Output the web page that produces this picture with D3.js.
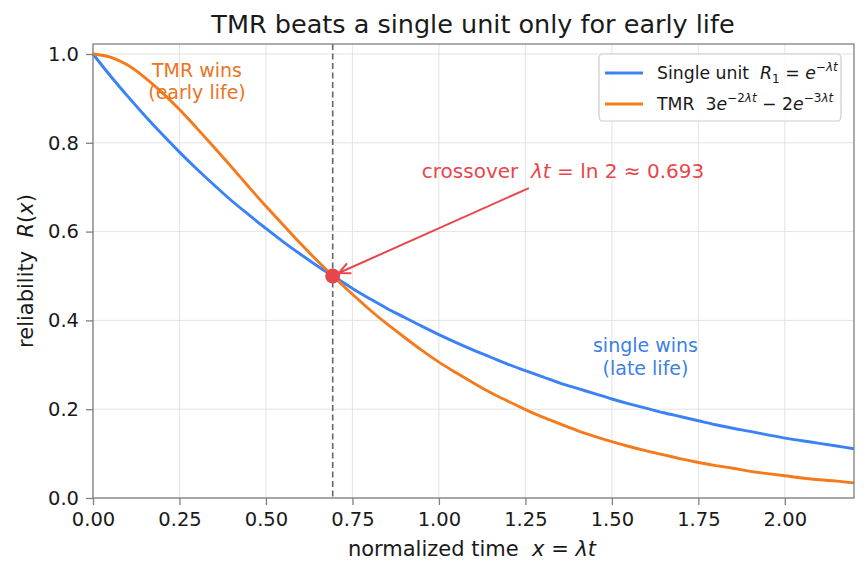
<!DOCTYPE html>
<html>
<head>
<meta charset="utf-8">
<script src="https://cdn.jsdelivr.net/npm/d3@7"></script>
<style>
  body { margin: 0; background: #fff; }
  svg { font-family: "DejaVu Sans", sans-serif; }
  svg text { white-space: pre; }
</style>
</head>
<body>
<svg id="chart" width="866" height="573"></svg>
<script>
(() => {

    // data
    const times = [0, 0.05, 0.1, 0.15, 0.2, 0.25, 0.3, 0.35, 0.4, 0.45, 0.5, 0.55, 0.6, 0.65, 0.7, 0.75,
        0.8, 0.85, 0.9, 0.95, 1.0, 1.05, 1.1, 1.15, 1.2, 1.25, 1.3, 1.35, 1.4, 1.45, 1.5, 1.55,
        1.6, 1.65, 1.7, 1.75, 1.8, 1.85, 1.9, 1.95, 2.0, 2.05, 2.1, 2.15, 2.2];
    const single_unit = [1, 0.951, 0.905, 0.861, 0.819, 0.779, 0.741, 0.705, 0.670, 0.638, 0.607, 0.577,
        0.549, 0.522, 0.497, 0.472, 0.449, 0.427, 0.407, 0.387, 0.368, 0.350, 0.333, 0.317, 0.301,
        0.287, 0.273, 0.259, 0.247, 0.235, 0.223, 0.212, 0.202, 0.192, 0.183, 0.174, 0.165, 0.157,
        0.150, 0.142, 0.135, 0.129, 0.123, 0.117, 0.111];
    const tmr = [1, 0.993, 0.975, 0.947, 0.913, 0.875, 0.833, 0.790, 0.746, 0.701, 0.657, 0.615,
        0.573, 0.533, 0.495, 0.459, 0.424, 0.392, 0.362, 0.333, 0.306, 0.282, 0.259, 0.237, 0.218,
        0.199, 0.182, 0.167, 0.152, 0.139, 0.127, 0.116, 0.106, 0.097, 0.088, 0.080, 0.073, 0.067,
        0.060, 0.055, 0.050, 0.045, 0.041, 0.038, 0.034];
    const crossover = [0.693, 0.5];
    const x_ticks = [0, 0.25, 0.5, 0.75, 1.0, 1.25, 1.5, 1.75, 2.0];
    const y_ticks = [0, 0.2, 0.4, 0.6, 0.8, 1.0];

    // chart parameters
    const left = 93, right = 854, top = 44, bottom = 498;
    const blue = '#3b82f6', orange = '#f57a1c', red = '#e8464b';
    const ink = '#1a1a1a';

    let svg = d3.select('#chart');

    let x_scale = d3.scaleLinear().domain([0, 2.2]).range([left, right]);
    let y_scale = d3.scaleLinear().domain([0, 1.0225]).range([bottom, top]);

    // grid
    svg.append('g')
        .selectAll('line')
        .data(x_ticks)
        .enter()
        .append('line')
        .attr('x1', (d) => x_scale(d)).attr('x2', (d) => x_scale(d))
        .attr('y1', top).attr('y2', bottom)
        .style('stroke', '#dcdcdc').style('stroke-width', 0.8);
    svg.append('g')
        .selectAll('line')
        .data(y_ticks)
        .enter()
        .append('line')
        .attr('x1', left).attr('x2', right)
        .attr('y1', (d) => y_scale(d)).attr('y2', (d) => y_scale(d))
        .style('stroke', '#dcdcdc').style('stroke-width', 0.8);

    // axes
    let x_axis = d3.axisBottom(x_scale).tickValues(x_ticks).tickSize(7).tickPadding(7)
        .tickFormat(d3.format('.2f'));
    let y_axis = d3.axisLeft(y_scale).tickValues(y_ticks).tickSize(7).tickPadding(7)
        .tickFormat(d3.format('.1f'));

    let gx = svg.append('g').attr('transform', `translate(0, ${bottom})`).call(x_axis);
    let gy = svg.append('g').attr('transform', `translate(${left}, 0)`).call(y_axis);
    [gx, gy].forEach((g) => {
        g.select('.domain').remove();
        g.selectAll('line').style('stroke', '#808080').style('stroke-width', 1.3);
        g.selectAll('text').style('font-size', '19.5px').style('fill', ink)
            .style('font-family', '"DejaVu Sans", sans-serif');
    });

    // crossover dashed line
    svg.append('line')
        .attr('x1', x_scale(crossover[0])).attr('x2', x_scale(crossover[0]))
        .attr('y1', top).attr('y2', bottom)
        .style('stroke', '#666').style('stroke-width', 1.6)
        .style('stroke-dasharray', '6,3.5');

    // curves
    let line = d3.line()
        .x((d) => x_scale(d[0]))
        .y((d) => y_scale(d[1]))
        .curve(d3.curveCatmullRom);

    svg.append('path')
        .datum(times.map((t, i) => [t, single_unit[i]]))
        .attr('d', line)
        .style('fill', 'none').style('stroke', blue).style('stroke-width', 2.9);
    svg.append('path')
        .datum(times.map((t, i) => [t, tmr[i]]))
        .attr('d', line)
        .style('fill', 'none').style('stroke', orange).style('stroke-width', 2.9);

    // spines
    svg.append('rect')
        .attr('x', left).attr('y', top)
        .attr('width', right - left).attr('height', bottom - top)
        .style('fill', 'none').style('stroke', '#808080').style('stroke-width', 1.3);

    // arrow
    svg.append('defs').append('marker')
        .attr('id', 'head')
        .attr('viewBox', '0 0 14 14')
        .attr('refX', 12.5).attr('refY', 7)
        .attr('markerWidth', 14).attr('markerHeight', 14)
        .attr('markerUnits', 'userSpaceOnUse')
        .attr('orient', 'auto')
        .append('path')
        .attr('d', 'M1,1.5 L12.5,7 L1,12.5')
        .style('fill', 'none').style('stroke', red).style('stroke-width', 2);

    svg.append('line')
        .attr('x1', x_scale(1.26)).attr('y1', y_scale(0.698))
        .attr('x2', x_scale(crossover[0]) + 6).attr('y2', y_scale(crossover[1]) - 3)
        .attr('marker-end', 'url(#head)')
        .style('stroke', red).style('stroke-width', 2);

    svg.append('circle')
        .attr('cx', x_scale(crossover[0])).attr('cy', y_scale(crossover[1]))
        .attr('r', 7.5)
        .style('fill', red);

    // annotation texts
    let ann = svg.append('text')
        .attr('x', 563).attr('y', 178)
        .style('font-size', '20px').style('fill', red).style('text-anchor', 'middle');
    ann.append('tspan').text('crossover  ');
    ann.append('tspan').style('font-style', 'italic').text('λt');
    ann.append('tspan').text(' = ln 2 ≈ 0.693');

    svg.append('text').attr('x', 197).attr('y', 77)
        .style('font-size', '19px').style('fill', '#ea7423').style('text-anchor', 'middle')
        .text('TMR wins');
    svg.append('text').attr('x', 197).attr('y', 98.5)
        .style('font-size', '19px').style('fill', '#ea7423').style('text-anchor', 'middle')
        .text('(early life)');
    svg.append('text').attr('x', 645.5).attr('y', 352)
        .style('font-size', '19px').style('fill', '#3d80e8').style('text-anchor', 'middle')
        .text('single wins');
    svg.append('text').attr('x', 645.5).attr('y', 375)
        .style('font-size', '19px').style('fill', '#3d80e8').style('text-anchor', 'middle')
        .text('(late life)');

    // title and axis labels
    svg.append('text').attr('x', 473).attr('y', 33)
        .style('font-size', '25.5px').style('fill', ink).style('text-anchor', 'middle')
        .text('TMR beats a single unit only for early life');

    let xl = svg.append('text').attr('x', 472).attr('y', 556)
        .style('font-size', '21px').style('fill', ink).style('text-anchor', 'middle');
    xl.append('tspan').text('normalized time  ');
    xl.append('tspan').style('font-style', 'italic').text('x');
    xl.append('tspan').text(' = ');
    xl.append('tspan').style('font-style', 'italic').text('λt');

    let yl = svg.append('text')
        .attr('transform', `translate(33, ${(top + bottom) / 2}) rotate(-90)`)
        .style('font-size', '21px').style('fill', ink).style('text-anchor', 'middle');
    yl.append('tspan').text('reliability  ');
    yl.append('tspan').style('font-style', 'italic').text('R');
    yl.append('tspan').text('(');
    yl.append('tspan').style('font-style', 'italic').text('x');
    yl.append('tspan').text(')');

    // legend
    let lg = svg.append('g');
    lg.append('rect')
        .attr('x', 599).attr('y', 54).attr('width', 242).attr('height', 67).attr('rx', 4)
        .style('fill', 'white').style('fill-opacity', 0.85)
        .style('stroke', '#cccccc').style('stroke-width', 1.2);

    const legend_rows = [{ color: blue, y: 73 }, { color: orange, y: 104 }];
    lg.selectAll('line')
        .data(legend_rows)
        .enter()
        .append('line')
        .attr('x1', 605).attr('x2', 643)
        .attr('y1', (d) => d.y).attr('y2', (d) => d.y)
        .style('stroke', (d) => d.color).style('stroke-width', 2.9);

    const fs = '17.3px', ss = '12px';
    let t1 = lg.append('text').attr('x', 657).attr('y', 79).style('font-size', fs).style('fill', ink);
    t1.append('tspan').text('Single unit  ');
    t1.append('tspan').style('font-style', 'italic').text('R');
    t1.append('tspan').attr('dy', 4).style('font-size', ss).text('1');
    t1.append('tspan').attr('dy', -4).text(' = ');
    t1.append('tspan').style('font-style', 'italic').text('e');
    t1.append('tspan').attr('dy', -8).style('font-size', ss).text('−');
    t1.append('tspan').style('font-size', ss).style('font-style', 'italic').text('λt');

    let t2 = lg.append('text').attr('x', 657).attr('y', 110).style('font-size', fs).style('fill', ink);
    t2.append('tspan').text('TMR  3');
    t2.append('tspan').style('font-style', 'italic').text('e');
    t2.append('tspan').attr('dy', -8).style('font-size', ss).text('−2');
    t2.append('tspan').style('font-size', ss).style('font-style', 'italic').text('λt');
    t2.append('tspan').attr('dy', 8).text(' − 2');
    t2.append('tspan').style('font-style', 'italic').text('e');
    t2.append('tspan').attr('dy', -8).style('font-size', ss).text('−3');
    t2.append('tspan').style('font-size', ss).style('font-style', 'italic').text('λt');

})();
</script>
</body>
</html>
